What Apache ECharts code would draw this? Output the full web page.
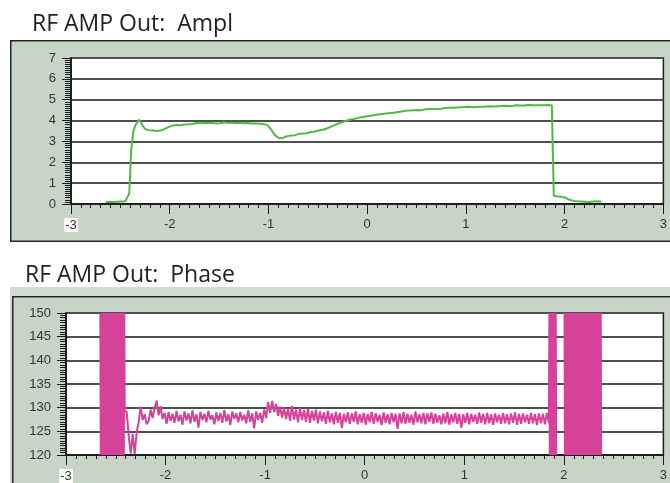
<!DOCTYPE html>
<html>
<head>
<meta charset="utf-8">
<script src="https://cdn.jsdelivr.net/npm/echarts@6/dist/echarts.min.js"></script>
<style>
  html, body { margin: 0; padding: 0; background: #ffffff; }
  #chart { width: 670px; height: 483px; }
</style>
</head>
<body>
<div id="chart"></div>
<script>
// Axis ticks
const timeTicks = [-3, -2, -1, 0, 1, 2, 3];
const amplTicks = [0, 1, 2, 3, 4, 5, 6, 7];
const phaseTicks = [120, 125, 130, 135, 140, 145, 150];

// Amplitude trace, sampled every 0.02 from -2.65
const amplStart = -2.65;
const amplStep = 0.02;
const amplValues = [
  0.1, 0.13, 0.09, 0.12, 0.1, 0.14, 0.11, 0.09, 0.12, 0.1,
  0.13, 0.11, 0.5, 2.6, 3.45, 3.75, 3.92, 4.03, 3.9, 3.72,
  3.6, 3.55, 3.53, 3.56, 3.52, 3.55, 3.5, 3.54, 3.52, 3.56,
  3.6, 3.65, 3.7, 3.72, 3.76, 3.75, 3.79, 3.8, 3.78, 3.82,
  3.81, 3.84, 3.82, 3.86, 3.84, 3.85, 3.88, 3.84, 3.87, 3.85,
  3.9, 3.86, 3.88, 3.85, 3.89, 3.87, 3.86, 3.9, 3.87, 3.88,
  3.92, 3.86, 3.89, 3.87, 3.9, 3.86, 3.88, 3.85, 3.89, 3.86,
  3.87, 3.84, 3.88, 3.85, 3.86, 3.83, 3.86, 3.84, 3.85, 3.82,
  3.84, 3.8, 3.78, 3.7, 3.55, 3.4, 3.28, 3.2, 3.15, 3.14,
  3.18, 3.22, 3.25, 3.27, 3.29, 3.31, 3.3, 3.34, 3.36, 3.35,
  3.38, 3.4, 3.39, 3.43, 3.45, 3.44, 3.48, 3.5, 3.52, 3.54,
  3.56, 3.58, 3.62, 3.65, 3.7, 3.74, 3.78, 3.82, 3.86, 3.9,
  3.93, 3.96, 3.99, 4.02, 4.05, 4.07, 4.08, 4.11, 4.13, 4.14,
  4.17, 4.18, 4.2, 4.22, 4.23, 4.25, 4.26, 4.28, 4.29, 4.3,
  4.32, 4.31, 4.34, 4.35, 4.36, 4.37, 4.38, 4.4, 4.41, 4.42,
  4.44, 4.45, 4.47, 4.46, 4.48, 4.49, 4.5, 4.49, 4.51, 4.52,
  4.5, 4.53, 4.54, 4.52, 4.55, 4.54, 4.56, 4.57, 4.55, 4.58,
  4.57, 4.59, 4.6, 4.58, 4.61, 4.6, 4.62, 4.61, 4.63, 4.62,
  4.64, 4.63, 4.65, 4.64, 4.66, 4.65, 4.64, 4.66, 4.65, 4.67,
  4.66, 4.68, 4.66, 4.67, 4.69, 4.67, 4.68, 4.7, 4.68, 4.69,
  4.7, 4.68, 4.71, 4.69, 4.7, 4.72, 4.7, 4.71, 4.73, 4.71,
  4.72, 4.74, 4.72, 4.73, 4.75, 4.73, 4.74, 4.75, 4.73, 4.76,
  4.74, 4.75, 4.74, 4.76, 4.75, 4.74, 4.72, 0.4, 0.34, 0.36,
  0.33, 0.35, 0.31, 0.3, 0.26, 0.2, 0.18, 0.15, 0.17, 0.13,
  0.16, 0.12, 0.14, 0.11, 0.13, 0.1, 0.15, 0.12, 0.1, 0.13,
  0.11, 0.12
];

// Phase trace: unlocked burst before the pulse, swinging rail to rail, sampled every 0.004
const phaseBurstAStart = -2.655;
const phaseBurstStep = 0.004;
const phaseBurstA = [
  150, 120, 150, 120, 150, 120, 150, 120, 150, 120,
  150, 120, 150, 120, 150, 120, 150, 120, 150, 120,
  150, 120, 150, 120, 150, 120, 150, 120, 150, 120,
  150, 120, 150, 120, 150, 120, 150, 120, 150, 120,
  150, 120, 150, 120, 150, 120, 150, 120, 150, 120,
  150, 120, 150, 120, 150, 120, 150, 120, 150, 120,
  150
];

// Phase during the pulse, sampled every 0.02 from -2.41
const phaseMainStart = -2.41;
const phaseMainStep = 0.02;
const phaseMain = [
  129.5, 129, 124, 120.3, 124.5, 120.2, 124.8, 127, 130.2, 127.4,
  128.6, 126.5, 127.2, 129.6, 127.8, 130, 131.5, 128.4, 130.3, 127.6,
  128.9, 126.6, 129.1, 127.2, 128.7, 126.8, 129.3, 127.1, 128.5, 126.4,
  129.2, 127.3, 128.8, 126.7, 129.4, 127, 128.6, 125.8, 129.1, 127.4,
  128.7, 126.9, 129.3, 127.5, 128.4, 126.5, 129, 127.2, 128.9, 126.8,
  129.5, 127.1, 128.6, 126.3, 129.2, 127.6, 128.8, 126.9, 129.1, 127.3,
  128.5, 126.7, 129.4, 127, 128.8, 125.6, 129.2, 127.4, 128.9, 126.8,
  129.6, 127.8, 131.2, 128.9, 131.4, 129.1, 130.8, 128.3, 130.2, 127.9,
  130, 127.6, 129.8, 127.2, 130.4, 127.5, 129.6, 126.9, 129.9, 127.4,
  129.5, 127, 129.8, 126.8, 129.3, 127.3, 129.6, 126.7, 129.2, 127.1,
  129, 126.6, 129.3, 126.9, 128.8, 126.5, 129.1, 126.8, 128.9, 125.7,
  128.7, 126.9, 129, 126.6, 128.8, 127, 129.2, 126.5, 128.6, 126.8,
  128.9, 126.4, 128.7, 126.9, 129.1, 126.6, 128.8, 127, 128.5, 126.3,
  129, 126.8, 128.6, 126.5, 128.9, 126.9, 128.7, 125.5, 128.8, 126.7,
  129.1, 126.6, 128.7, 126.8, 128.5, 126.4, 129.2, 126.9, 128.6, 126.7,
  128.9, 126.5, 128.8, 127, 129, 126.6, 128.7, 126.8, 128.4, 126.5,
  128.8, 126.7, 129.1, 126.4, 128.6, 126.9, 128.9, 126.6, 128.7, 125.8,
  128.6, 126.8, 128.9, 126.5, 128.7, 127, 128.5, 126.6, 129, 126.8,
  128.7, 126.5, 128.9, 126.7, 128.6, 126.4, 128.8, 126.9, 128.5, 126.6,
  128.9, 126.7, 128.6, 126.5, 128.8, 126.8, 129, 126.4, 128.7, 126.6,
  128.8, 126.9, 128.5, 126.6, 128.9, 126.7, 128.6, 126.3, 128.8, 126.7,
  128.7, 126.5, 128.9, 126.8
];

// Phase after the pulse ends, sampled every 0.004 from 1.855 (null = no trace)
const phaseBurstCStart = 1.855;
const phaseBurstC = [
  150, 120, 150, 120, 150, 120, 150, null, 150, 120,
  150, 120, 150, 120, 150, 120, 150, 120,
  null, null, null, null, null, null, null, null, null, null,
  null, null, null, null, null, null, null, null, null, null,
  150, 120, 150, null, null, 120, 150, 120, null,
  150, 120, 150, 120, 150, 120, 150, 120, 150, 120,
  150, 120, 150, 120, 150, 120, 150, 120, 150, 120,
  150, 120, 150, 120, 150, 120, 150, 120, 150, 120,
  150, 120, 150, 120, 150, 120, 150, 120, 150, 120,
  150, 120, 150, 120, 150, 120, 150, 120, 150, 120,
  150, 120, 150, 120, 150, 120, 150, 120, 150, 120,
  150, 120, 150, 120, 150, 120, 150, 120, 150, 120,
  150, 120, 150, 120, 150, 120, 150, 120, 150, 120,
  150, 120, 150, 120
];

function toPoints(start, step, values) {
  return values.map((v, i) => [+(start + i * step).toFixed(4), v]);
}

const amplPoints = toPoints(amplStart, amplStep, amplValues);
const phasePoints = [].concat(
  toPoints(phaseBurstAStart, phaseBurstStep, phaseBurstA),
  toPoints(phaseMainStart, phaseMainStep, phaseMain),
  toPoints(phaseBurstCStart, phaseBurstStep, phaseBurstC)
);

function labelStyle() {
  return { fontFamily: 'Liberation Sans', fontSize: 13, color: '#333333' };
}
function boxedStyle() {
  return { backgroundColor: '#ffffff', padding: [1, 1, 0, 1], fontFamily: 'Liberation Sans', fontSize: 13, color: '#333333' };
}

function xAxisFor(gridIndex) {
  return {
    type: 'value', gridIndex, position: 'bottom',
    min: timeTicks[0], max: timeTicks[timeTicks.length - 1], interval: 1,
    axisLine: { show: true, onZero: false, lineStyle: { color: '#111111', width: 1.5 } },
    axisTick: { show: true, inside: false, length: 10, lineStyle: { color: '#1c1c1c', width: 1 } },
    minorTick: { show: true, splitNumber: 10, length: 4, lineStyle: { color: '#1e1e1e', width: 1 } },
    splitLine: { show: false },
    axisLabel: Object.assign(labelStyle(), {
      margin: 14,
      formatter: v => v === timeTicks[0] ? '{b|' + v + '}' : String(v),
      rich: { b: boxedStyle() }
    })
  };
}

function yAxisFor(gridIndex, ticks, interval) {
  const lo = ticks[0], hi = ticks[ticks.length - 1];
  return {
    type: 'value', gridIndex, position: 'left',
    min: lo, max: hi, interval,
    axisLine: { show: true, onZero: false, lineStyle: { color: '#111111', width: 1.5 } },
    axisTick: { show: true, inside: false, length: 9, lineStyle: { color: '#181818', width: 1 } },
    minorTick: { show: true, splitNumber: 10, length: 6, lineStyle: { color: '#1a1a1a', width: 1 } },
    splitLine: { show: true, lineStyle: { color: '#4f4f4f', width: 2 } },
    axisLabel: Object.assign(labelStyle(), { margin: 15 })
  };
}

const chart = echarts.init(document.getElementById('chart'));

const titleStyle = { fontFamily: 'Open Sans', fontSize: 23, fontWeight: 'normal', color: '#222222' };

chart.setOption({
  animation: false,
  title: [
    { text: 'RF AMP Out:  Ampl', left: 27, top: 8, textStyle: titleStyle },
    { text: 'RF AMP Out:  Phase', left: 20, top: 259, textStyle: titleStyle }
  ],
  graphic: [
    {
      type: 'rect', z: -10, silent: true,
      shape: { x: 10, y: 40, width: 680, height: 202 },
      style: { fill: '#262626' }
    },
    {
      type: 'rect', z: -9, silent: true,
      shape: { x: 11.5, y: 41.5, width: 680, height: 199 },
      style: { fill: '#c7d4c7' }
    },
    {
      type: 'rect', z: -10, silent: true,
      shape: { x: 10, y: 287, width: 680, height: 210 },
      style: { fill: '#d3dcd3' }
    },
    {
      type: 'rect', z: -9, silent: true,
      shape: { x: 12, y: 296, width: 680, height: 200 },
      style: { fill: '#262626' }
    },
    {
      type: 'rect', z: -8, silent: true,
      shape: { x: 13.5, y: 297.5, width: 680, height: 200 },
      style: { fill: '#c7d4c7' }
    }
  ],
  grid: [
    { left: 71, top: 58, width: 594, height: 146, show: true, backgroundColor: '#ffffff', borderColor: '#202020', borderWidth: 1.5 },
    { left: 66, top: 313, width: 598, height: 143, show: true, backgroundColor: '#ffffff', borderColor: '#202020', borderWidth: 1.5 }
  ],
  xAxis: [xAxisFor(0), xAxisFor(1)],
  yAxis: [yAxisFor(0, amplTicks, 1), yAxisFor(1, phaseTicks, 5)],
  series: [
    {
      name: 'Ampl', type: 'line', xAxisIndex: 0, yAxisIndex: 0,
      data: amplPoints, showSymbol: false, clip: false,
      lineStyle: { color: '#52b848', width: 2 }
    },
    {
      name: 'Phase', type: 'line', xAxisIndex: 1, yAxisIndex: 1,
      data: phasePoints, showSymbol: false, clip: false, connectNulls: false,
      lineStyle: { color: '#d6419a', width: 2 }
    }
  ]
});
</script>
</body>
</html>
